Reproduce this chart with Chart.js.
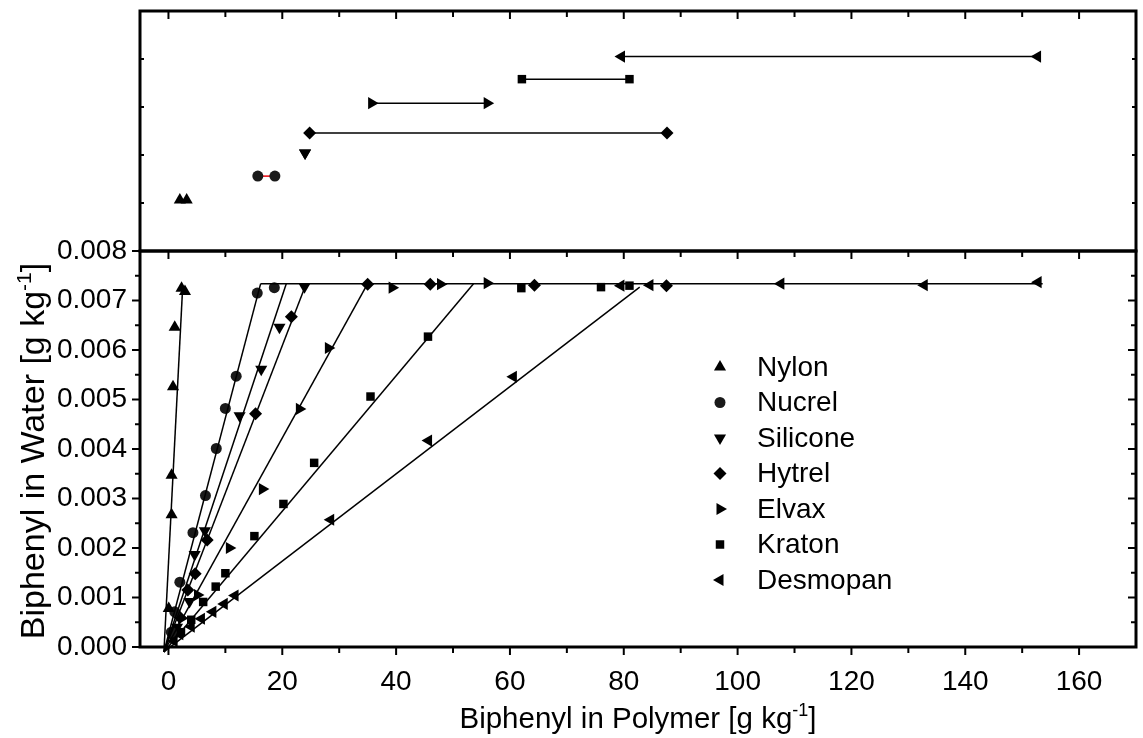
<!DOCTYPE html>
<html>
<head>
<meta charset="utf-8">
<script src="https://cdn.jsdelivr.net/npm/chart.js@4.4.1/dist/chart.umd.min.js"></script>
<style>
  html, body { margin: 0; padding: 0; background: #fff; }
  #wrap { position: relative; width: 1143px; height: 738px; }
</style>
</head>
<body>
<div id="wrap"><canvas id="chart" width="1143" height="738"></canvas></div>
<script>
// polymers in legend order
const polymers = ["Nylon", "Nucrel", "Silicone", "Hytrel", "Elvax", "Kraton", "Desmopan"];

// biphenyl in polymer [g/kg] (x) vs biphenyl in water [g/kg] (y)
const nylonX = [0.05, 0.55, 0.55, 0.8, 1.1, 2.3, 2.9];
const nylonY = [0.00078, 0.00267, 0.00347, 0.00526, 0.00646, 0.00725, 0.00718];
const nucrelX = [0.5, 1.1, 2.0, 4.3, 6.5, 8.4, 10.0, 11.9, 15.6, 18.6];
const nucrelY = [0.0003, 0.00071, 0.00131, 0.00231, 0.00306, 0.00401, 0.00482, 0.00547, 0.00715, 0.00726];
const siliconeX = [0.8, 1.5, 3.7, 4.6, 6.4, 12.5, 16.3, 19.5, 23.9];
const siliconeY = [0.0002, 0.0004, 0.00092, 0.00187, 0.00235, 0.00467, 0.00561, 0.00646, 0.00728];
const hytrelX = [1.0, 2.0, 3.4, 4.7, 6.8, 15.3, 21.6, 35.0, 46.0, 64.3, 87.5];
const hytrelY = [0.0003, 0.0006, 0.00115, 0.00148, 0.00216, 0.00471, 0.00667, 0.00733, 0.00733, 0.00731, 0.0073];
const elvaxX = [1.2, 2.3, 5.1, 10.7, 16.5, 23.0, 28.1, 39.3, 47.8, 56.0];
const elvaxY = [0.00025, 0.00058, 0.00105, 0.002, 0.00319, 0.00481, 0.00604, 0.00726, 0.00733, 0.00735];
const kratonX = [2.2, 4.0, 6.1, 8.3, 10.0, 15.1, 20.2, 25.6, 35.5, 45.6, 62.0, 76.0, 81.0];
const kratonY = [0.0003, 0.00055, 0.00091, 0.00122, 0.00149, 0.00224, 0.00289, 0.00372, 0.00506, 0.00627, 0.00725, 0.00727, 0.0073];
const desmopanX = [1.0, 2.0, 4.0, 5.8, 7.8, 9.8, 11.7, 28.5, 45.7, 60.6, 79.5, 84.6, 107.6, 132.8, 152.8];
const desmopanY = [0.00012, 0.00026, 0.00041, 0.00057, 0.00071, 0.00087, 0.00104, 0.00257, 0.00417, 0.00546, 0.0073, 0.00731, 0.00734, 0.00731, 0.00737];

// linear fits: common start near the origin, end where each meets saturation
const fitStart = [-0.8, -0.0001];
const kinkX = [2.5, 16.2, 20.7, 24.2, 35.0, 53.6, 82.8];
const kinkY = [0.00728, 0.00734, 0.00734, 0.00734, 0.00734, 0.00734, 0.00727];
// saturation level
const plateauX = [16.2, 153.6];
const plateauY = [0.00734, 0.00734];

// upper panel: saturation range per polymer
const rangeLow = [2.0, 15.7, 24.0, 24.8, 35.7, 62.1, 79.6];
const rangeHigh = [3.2, 18.7, 24.0, 87.6, 56.0, 81.0, 152.7];
const rangeLevel = [1.06, 1.56, 2.04, 2.46, 3.08, 3.58, 4.05];

// axis ticks
const xTickValues = [0, 20, 40, 60, 80, 100, 120, 140, 160];
const yTickValues = [0, 0.001, 0.002, 0.003, 0.004, 0.005, 0.006, 0.007, 0.008];
const yTopTicks = [1, 2, 3, 4];

const seriesX = [nylonX, nucrelX, siliconeX, hytrelX, elvaxX, kratonX, desmopanX];
const seriesY = [nylonY, nucrelY, siliconeY, hytrelY, elvaxY, kratonY, desmopanY];

const markers = [
  { pointStyle: "triangle", rotation: 0, radius: 7 },
  { pointStyle: "circle", rotation: 0, radius: 5.5 },
  { pointStyle: "triangle", rotation: 180, radius: 7 },
  { pointStyle: "rectRot", rotation: 0, radius: 6.5 },
  { pointStyle: "triangle", rotation: 90, radius: 7 },
  { pointStyle: "rect", rotation: 0, radius: 6 },
  { pointStyle: "triangle", rotation: 270, radius: 7 }
];
const markerColor = ["#000", "#1a1a1a", "#000", "#000", "#000", "#000", "#000"];

const FONT = "'Liberation Sans', Arial, Helvetica, sans-serif";

const toPoints = (xs, ys) => xs.map((v, i) => ({ x: v, y: ys[i] }));

const datasets = [];

// fitted lines
polymers.forEach((name, i) => {
  datasets.push({
    label: name + " fit",
    data: [{ x: fitStart[0], y: fitStart[1] }, { x: kinkX[i], y: kinkY[i] }],
    showLine: true,
    borderColor: "#000",
    borderWidth: 1.5,
    pointRadius: 0,
    clip: false,
    yAxisID: "y"
  });
});
datasets.push({
  label: "plateau",
  data: toPoints(plateauX, plateauY),
  showLine: true,
  borderColor: "#000",
  borderWidth: 1.5,
  pointRadius: 0,
  yAxisID: "y"
});

// measured points
polymers.forEach((name, i) => {
  datasets.push({
    label: name,
    data: toPoints(seriesX[i], seriesY[i]),
    showLine: false,
    pointStyle: markers[i].pointStyle,
    rotation: markers[i].rotation,
    pointRadius: markers[i].radius,
    pointBackgroundColor: markerColor[i],
    pointBorderColor: markerColor[i],
    pointBorderWidth: 0,
    yAxisID: "y"
  });
});

// saturation ranges in the upper panel
polymers.forEach((name, i) => {
  datasets.push({
    label: name + " range",
    data: [{ x: rangeLow[i], y: rangeLevel[i] }, { x: rangeHigh[i], y: rangeLevel[i] }],
    showLine: true,
    borderColor: name === "Nucrel" ? "#e8000b" : "#000",
    borderWidth: 1.5,
    pointStyle: markers[i].pointStyle,
    rotation: markers[i].rotation,
    pointRadius: markers[i].radius,
    pointBackgroundColor: markerColor[i],
    pointBorderColor: markerColor[i],
    pointBorderWidth: 0,
    yAxisID: "yTop"
  });
});

function drawSuperTitle(ctx, parts, x, y, angle, size) {
  // parts: [main, superscript, tail]; centred on (x, y)
  ctx.save();
  ctx.translate(x, y);
  ctx.rotate(angle);
  ctx.fillStyle = "#000";
  ctx.textBaseline = "alphabetic";
  ctx.textAlign = "left";
  const big = size + "px " + FONT, small = Math.round(size * 0.62) + "px " + FONT;
  ctx.font = big;
  const w1 = ctx.measureText(parts[0]).width;
  const w3 = ctx.measureText(parts[2]).width;
  ctx.font = small;
  const w2 = ctx.measureText(parts[1]).width;
  let cx = -(w1 + w2 + w3) / 2;
  const base = size * 0.36;
  ctx.font = big;
  ctx.fillText(parts[0], cx, base);
  cx += w1;
  ctx.font = small;
  ctx.fillText(parts[1], cx, base - size * 0.4);
  cx += w2;
  ctx.font = big;
  ctx.fillText(parts[2], cx, base);
  ctx.restore();
}

const framePlugin = {
  id: "frameAndTicks",
  afterDatasetsDraw(chart) {
    const ctx = chart.ctx;
    const { x, y, yTop } = chart.scales;
    const seg = (x1, y1, x2, y2) => { ctx.beginPath(); ctx.moveTo(x1, y1); ctx.lineTo(x2, y2); ctx.stroke(); };
    ctx.save();
    ctx.strokeStyle = "#000";
    ctx.lineWidth = 2;

    // x ticks every 10, longer at labelled values
    for (let v = 0; v <= 160; v += 10) {
      const px = x.getPixelForValue(v);
      const major = xTickValues.includes(v);
      const len = major ? 8 : 6;
      seg(px, y.bottom, px, y.bottom + len);
      seg(px, y.top, px, y.top + len);
      seg(px, yTop.top, px, yTop.top + len);
    }
    // y ticks of lower panel: outward left, inward right
    yTickValues.forEach((v, i) => {
      const py = y.getPixelForValue(v);
      seg(x.left, py, x.left - 8, py);
      seg(x.right, py, x.right - 8, py);
      if (i < yTickValues.length - 1) {
        const pm = y.getPixelForValue((v + yTickValues[i + 1]) / 2);
        seg(x.left, pm, x.left - 5, pm);
        seg(x.right, pm, x.right - 5, pm);
      }
    });
    // small ticks on the upper panel sides
    yTopTicks.forEach(v => {
      const py = yTop.getPixelForValue(v);
      seg(x.left, py, x.left + 4, py);
      seg(x.right, py, x.right - 4, py);
    });

    // panel frames
    ctx.lineWidth = 3;
    ctx.strokeRect(x.left, yTop.top, x.right - x.left, yTop.bottom - yTop.top);
    ctx.strokeRect(x.left, y.top, x.right - x.left, y.bottom - y.top);

    // legend
    const lx = 720, tx = 757, ly0 = 367, step = 35.5;
    ctx.font = "28px " + FONT;
    ctx.textBaseline = "middle";
    ctx.textAlign = "left";
    polymers.forEach((name, i) => {
      const ly = ly0 + i * step;
      ctx.fillStyle = markerColor[i];
      Chart.helpers.drawPoint(ctx, {
        pointStyle: markers[i].pointStyle,
        rotation: markers[i].rotation,
        radius: markers[i].radius,
        borderWidth: 0
      }, lx, ly);
      ctx.fillStyle = "#000";
      ctx.fillText(name, tx, ly + 1);
    });

    // axis titles
    drawSuperTitle(ctx, ["Biphenyl in Polymer [g kg", "-1", "]"], (x.left + x.right) / 2, 717, 0, 29.5);
    drawSuperTitle(ctx, ["Biphenyl in Water [g kg", "-1", "]"], 32, 451, -Math.PI / 2, 34);
    ctx.restore();
  }
};

// keep the plot box fixed: no extra room reserved for overhanging labels
const noPad = s => { s.paddingTop = 0; s.paddingBottom = 0; s.paddingLeft = 0; s.paddingRight = 0; };

new Chart(document.getElementById("chart"), {
  type: "scatter",
  data: { datasets: datasets },
  options: {
    responsive: false,
    animation: false,
    events: [],
    layout: { padding: { top: 11, right: 3, left: 0, bottom: 0 } },
    plugins: { legend: { display: false }, tooltip: { enabled: false } },
    scales: {
      x: {
        type: "linear",
        min: -5,
        max: 170,
        grid: { display: false, drawTicks: false },
        border: { display: false },
        afterBuildTicks: s => { s.ticks = xTickValues.map(v => ({ value: v })); },
        afterFit: s => { s.height = 91; noPad(s); },
        ticks: { color: "#000", padding: 18, maxRotation: 0, autoSkip: false, font: { family: FONT, size: 28 } }
      },
      y: {
        type: "linear",
        position: "left",
        stack: "panels",
        stackWeight: 396,
        min: 0,
        max: 0.008,
        grid: { display: false, drawTicks: false },
        border: { display: false },
        afterBuildTicks: s => { s.ticks = yTickValues.map(v => ({ value: v })); },
        afterFit: s => { s.width = 140; noPad(s); },
        ticks: {
          color: "#000",
          padding: 13,
          autoSkip: false,
          font: { family: FONT, size: 28 },
          callback: v => v.toFixed(3)
        }
      },
      yTop: {
        type: "linear",
        position: "left",
        stack: "panels",
        stackWeight: 240,
        min: 0,
        max: 5,
        grid: { display: false, drawTicks: false },
        border: { display: false },
        ticks: { display: false },
        afterFit: s => { s.width = 140; noPad(s); }
      }
    }
  },
  plugins: [framePlugin]
});
</script>
</body>
</html>
